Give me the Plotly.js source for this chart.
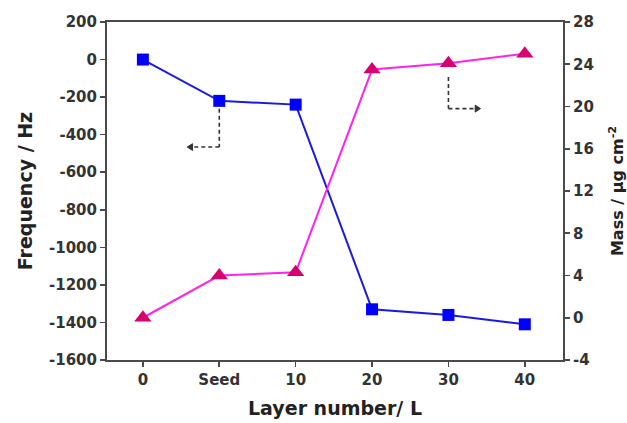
<!DOCTYPE html>
<html>
<head>
<meta charset="utf-8">
<script src="https://cdn.plot.ly/plotly-3.0.1.min.js"></script>
<style>html,body{margin:0;padding:0;background:#fff;}#chart{width:627px;height:423px;}</style>
</head>
<body>
<div id="chart"></div>
<script>
const categories = ["0", "Seed", "10", "20", "30", "40"];
const frequency = [0, -220, -240, -1330, -1360, -1410];
const mass = [0, 4.0, 4.3, 23.5, 24.1, 25.0];
const freqTicks = [200, 0, -200, -400, -600, -800, -1000, -1200, -1400, -1600];
const massTicks = [28, 24, 20, 16, 12, 8, 4, 0, -4];

const idx = categories.map((c, i) => i);
const bold = v => "<b>" + v + "</b>";
const fam = "DejaVu Sans, Arial, sans-serif";
const tickFont = {family: fam, size: 15, color: "#333"};

const traces = [
  {x: idx, y: frequency, type: "scatter", mode: "lines+markers", yaxis: "y",
   line: {color: "#1a1adf", width: 2},
   marker: {symbol: "square", size: 12, color: "#0000ff"}},
  {x: idx, y: mass, type: "scatter", mode: "lines+markers", yaxis: "y2",
   line: {color: "#ff22ee", width: 2},
   marker: {symbol: "triangle-up", size: 15, color: "#d6006e"}}
];

const dash = {color: "#333", width: 1.6, dash: "4px,3px"};
const head = {color: "#333", width: 1};
const axisCommon = {
  showgrid: false, zeroline: false,
  showline: true, linecolor: "#4a4a4a", linewidth: 2,
  ticks: "outside", ticklen: 5, tickwidth: 1.6, tickcolor: "#4a4a4a",
  tickfont: tickFont
};
const titleFont = {family: fam, size: 19, color: "#222"};
const layout = {
  width: 627, height: 423,
  margin: {l: 107, r: 64, t: 22, b: 63},
  paper_bgcolor: "#fff", plot_bgcolor: "#fff",
  showlegend: false,
  xaxis: Object.assign({}, axisCommon, {
    range: [-0.47, 5.5], tickvals: idx, ticktext: categories.map(bold), mirror: true,
    title: {text: bold("Layer number/ L"), font: titleFont, standoff: 14}
  }),
  yaxis: Object.assign({}, axisCommon, {
    range: [-1600, 200], tickvals: freqTicks, ticktext: freqTicks.map(bold),
    title: {text: bold("Frequency / Hz"), font: titleFont, standoff: 11}
  }),
  yaxis2: Object.assign({}, axisCommon, {
    overlaying: "y", side: "right",
    range: [-4, 28], tickvals: massTicks, ticktext: massTicks.map(bold),
    title: {text: bold("Mass / μg cm<sup>-2</sup>"), font: Object.assign({}, titleFont, {size: 16}), standoff: 21}
  }),
  shapes: [
    {type: "line", xref: "x", yref: "y", x0: 1, x1: 1, y0: -262, y1: -466, line: dash},
    {type: "line", xref: "x", yref: "y", x0: 1, x1: 0.64, y0: -466, y1: -466, line: dash},
    {type: "path", xref: "x", yref: "y", path: "M 0.58,-466 L 0.65,-448 L 0.65,-484 Z",
     fillcolor: "#333", line: head},
    {type: "line", xref: "x", yref: "y2", x0: 4, x1: 4, y0: 22.8, y1: 19.8, line: dash},
    {type: "line", xref: "x", yref: "y2", x0: 4, x1: 4.36, y0: 19.8, y1: 19.8, line: dash},
    {type: "path", xref: "x", yref: "y2", path: "M 4.42,19.8 L 4.35,20.13 L 4.35,19.47 Z",
     fillcolor: "#333", line: head}
  ]
};

Plotly.newPlot("chart", traces, layout, {displayModeBar: false, staticPlot: true});
</script>
</body>
</html>
